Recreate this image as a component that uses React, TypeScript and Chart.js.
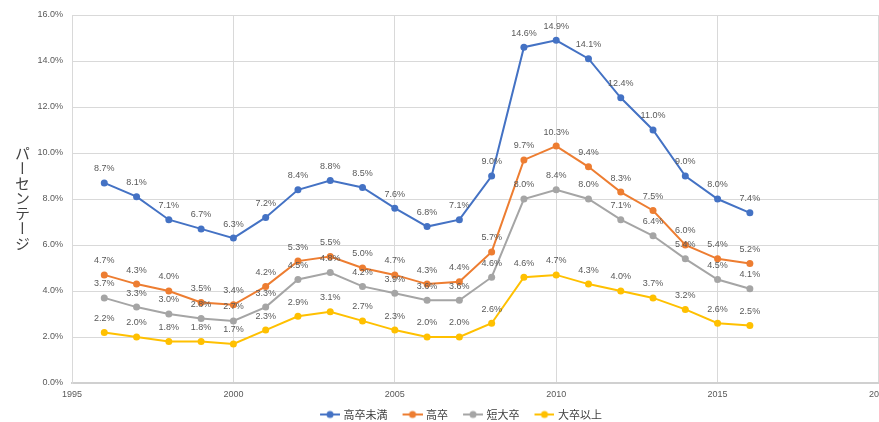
import React, { useEffect, useRef } from 'react';
import { Chart, registerables } from 'chart.js';

Chart.register(...registerables);

const years = [1996, 1997, 1998, 1999, 2000, 2001, 2002, 2003, 2004, 2005, 2006, 2007, 2008, 2009, 2010, 2011, 2012, 2013, 2014, 2015, 2016];
const seriesNames = ['高卒未満', '高卒', '短大卒', '大卒以上'];
const belowHighSchool = [8.7, 8.1, 7.1, 6.7, 6.3, 7.2, 8.4, 8.8, 8.5, 7.6, 6.8, 7.1, 9.0, 14.6, 14.9, 14.1, 12.4, 11.0, 9.0, 8.0, 7.4];
const highSchool = [4.7, 4.3, 4.0, 3.5, 3.4, 4.2, 5.3, 5.5, 5.0, 4.7, 4.3, 4.4, 5.7, 9.7, 10.3, 9.4, 8.3, 7.5, 6.0, 5.4, 5.2];
const juniorCollege = [3.7, 3.3, 3.0, 2.8, 2.7, 3.3, 4.5, 4.8, 4.2, 3.9, 3.6, 3.6, 4.6, 8.0, 8.4, 8.0, 7.1, 6.4, 5.4, 4.5, 4.1];
const university = [2.2, 2.0, 1.8, 1.8, 1.7, 2.3, 2.9, 3.1, 2.7, 2.3, 2.0, 2.0, 2.6, 4.6, 4.7, 4.3, 4.0, 3.7, 3.2, 2.6, 2.5];
const seriesValues = [belowHighSchool, highSchool, juniorCollege, university];
const seriesColors = ['#4472C4', '#ED7D31', '#A5A5A5', '#FFC000'];
const xMin = 1995;
const xMax = 2020;
const xStep = 5;
const yMin = 0;
const yMax = 16;
const yStep = 2;
const yTitle = 'パーセンテージ';

const LABEL_FONT = '"Liberation Sans", Arial, sans-serif';
const CJK_FONT = '"Noto Sans CJK JP", "Noto Sans CJK SC", sans-serif';

function makeMarker(color: string): HTMLCanvasElement {
  const c = document.createElement('canvas');
  c.width = 29;
  c.height = 10;
  const ctx = c.getContext('2d')!;
  ctx.strokeStyle = color;
  ctx.lineWidth = 2;
  ctx.beginPath();
  ctx.moveTo(9, 5);
  ctx.lineTo(29, 5);
  ctx.stroke();
  ctx.fillStyle = color;
  ctx.beginPath();
  ctx.arc(19, 5, 3.5, 0, Math.PI * 2);
  ctx.fill();
  return c;
}

const dataLabelPlugin = {
  id: 'dataLabels',
  afterDatasetsDraw(chart: any) {
    const ctx = chart.ctx;
    ctx.save();
    ctx.font = `9px ${LABEL_FONT}`;
    ctx.fillStyle = '#595959';
    ctx.textAlign = 'center';
    ctx.textBaseline = 'middle';
    chart.data.datasets.forEach((ds: any, i: number) => {
      const meta = chart.getDatasetMeta(i);
      meta.data.forEach((pt: any, j: number) => {
        const v = ds.data[j].y;
        ctx.fillText(v.toFixed(1) + '%', pt.x, pt.y - 14);
      });
    });
    ctx.restore();
  },
};

export default function App() {
  const canvasRef = useRef<HTMLCanvasElement | null>(null);

  useEffect(() => {
    if (!canvasRef.current) return;
    const markers = seriesColors.map(makeMarker);
    const chart = new Chart(canvasRef.current, {
      type: 'line',
      data: {
        datasets: seriesNames.map((name, i) => ({
          label: name,
          data: years.map((yr, j) => ({ x: yr, y: seriesValues[i][j] })),
          borderColor: seriesColors[i],
          backgroundColor: seriesColors[i],
          borderWidth: 2,
          pointRadius: 3.5,
          pointBorderWidth: 0,
          pointBackgroundColor: seriesColors[i],
          tension: 0,
        })),
      },
      options: {
        responsive: false,
        animation: false,
        layout: { padding: { left: 34, right: 14, top: 15, bottom: 0 } },
        plugins: {
          tooltip: { enabled: false },
          legend: {
            position: 'bottom',
            labels: {
              font: { family: CJK_FONT, size: 11 },
              color: '#404040',
              usePointStyle: true,
              pointStyleWidth: 25,
              padding: 8,
              generateLabels: (ch: any) =>
                ch.data.datasets.map((ds: any, i: number) => ({
                  text: ds.label,
                  fillStyle: ds.borderColor,
                  strokeStyle: ds.borderColor,
                  lineWidth: 0,
                  pointStyle: markers[i],
                  hidden: false,
                  datasetIndex: i,
                  fontColor: '#404040',
                })),
            },
          },
        },
        scales: {
          x: {
            type: 'linear',
            min: xMin,
            max: xMax,
            ticks: {
              stepSize: xStep,
              padding: 6,
              color: '#595959',
              font: { family: LABEL_FONT, size: 9 },
              callback: (v: any) => String(v),
            },
            grid: { color: '#d9d9d9', lineWidth: 1, drawTicks: false },
            border: { color: '#d0d0d0', width: 2 },
            afterFit: (s: any) => { s.height = 18; },
          },
          y: {
            min: yMin,
            max: yMax,
            ticks: {
              stepSize: yStep,
              padding: 9,
              color: '#595959',
              font: { family: LABEL_FONT, size: 9 },
              callback: (v: any) => Number(v).toFixed(1) + '%',
            },
            grid: { color: '#d9d9d9', lineWidth: 1, drawTicks: false },
            border: { color: '#d9d9d9', width: 1 },
            afterFit: (s: any) => { s.width = 38; },
          },
        },
      },
      plugins: [dataLabelPlugin],
    });
    return () => chart.destroy();
  }, []);

  return (
    <div style={{ position: 'fixed', left: 0, top: 0, width: 879, height: 422, overflow: 'hidden', background: '#fff' }}>
      <canvas ref={canvasRef} width={895} height={430} style={{ position: 'absolute', left: 0, top: 0 }} />
      <div
        style={{
          position: 'absolute',
          left: 14,
          top: 146,
          writingMode: 'vertical-rl',
          fontFamily: CJK_FONT,
          fontSize: 15,
          lineHeight: '16px',
          color: '#404040',
          letterSpacing: 0,
        }}
      >
        {yTitle}
      </div>
    </div>
  );
}
